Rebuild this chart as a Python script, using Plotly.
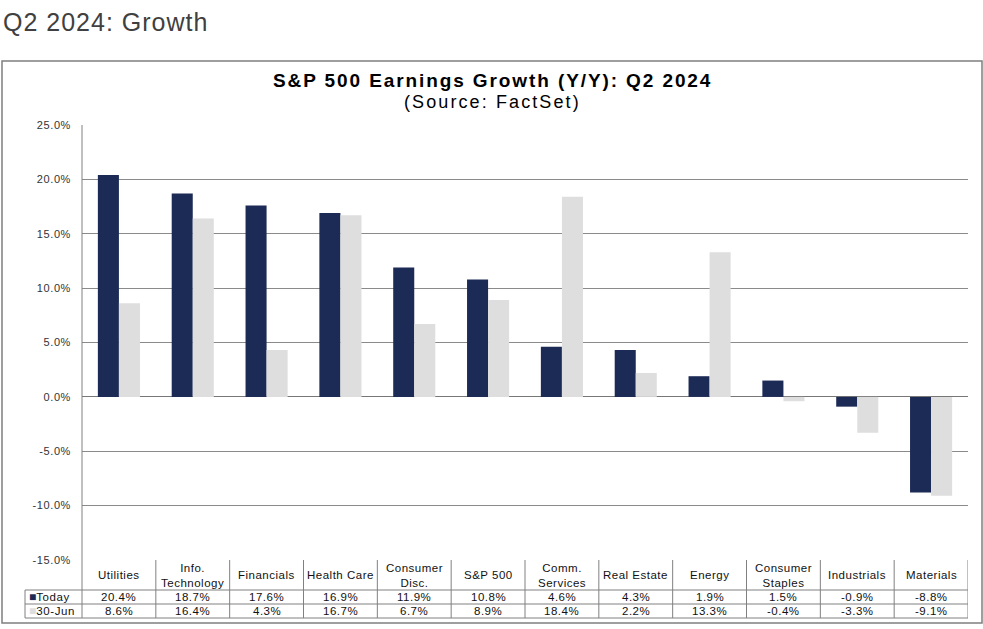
import plotly.graph_objects as go

categories = ["Utilities", "Info.<br>Technology", "Financials", "Health Care",
              "Consumer<br>Disc.", "S&P 500", "Comm.<br>Services", "Real Estate",
              "Energy", "Consumer<br>Staples", "Industrials", "Materials"]
today = [20.4, 18.7, 17.6, 16.9, 11.9, 10.8, 4.6, 4.3, 1.9, 1.5, -0.9, -8.8]
jun30 = [8.6, 16.4, 4.3, 16.7, 6.7, 8.9, 18.4, 2.2, 13.3, -0.4, -3.3, -9.1]
series_names = ["Today", "30-Jun"]
y_ticks = [25, 20, 15, 10, 5, 0, -5, -10, -15]

NAVY = "#1c2a56"
LIGHT = "#dedede"
GRID = "#8a8a8a"
FONT = "Liberation Sans, Arial, sans-serif"

W, H = 983, 629
L, R, T, B = 82, 968, 125, 560


def px_x(px):
    return (px - L) / (R - L)


def px_y(py):
    return (B - py) / (B - T)


def spaced(text, ls):
    return "<br>".join(f"<span style='letter-spacing:{ls}px'>{part}</span>"
                       for part in text.split("<br>"))


idx = list(range(len(categories)))
fig = go.Figure()
fig.add_trace(go.Bar(x=idx, y=today, name=series_names[0], marker_color=NAVY,
                     marker_line_width=0))
fig.add_trace(go.Bar(x=idx, y=jun30, name=series_names[1], marker_color=LIGHT,
                     marker_line_width=0))

shapes = []
annotations = []

# outer frame
shapes.append(dict(type="rect", xref="paper", yref="paper",
                   x0=px_x(2), x1=px_x(982), y0=px_y(623), y1=px_y(61),
                   line=dict(color="#7f7f7f", width=1.5), layer="below"))

# table lines
line_style = dict(color="#808080", width=1)
for py, x0 in [(590, 25), (604, 25), (618, 25)]:
    shapes.append(dict(type="line", xref="paper", yref="paper",
                       x0=px_x(x0), x1=1, y0=px_y(py), y1=px_y(py), line=line_style))
shapes.append(dict(type="line", xref="paper", yref="paper",
                   x0=px_x(25), x1=px_x(25), y0=px_y(590), y1=px_y(618), line=line_style))
shapes.append(dict(type="line", xref="paper", yref="paper",
                   x0=0, x1=0, y0=1, y1=px_y(618), line=line_style))
for i in range(len(categories)):
    xb = i + 0.5
    shapes.append(dict(type="line", xref="x", yref="paper",
                       x0=xb, x1=xb, y0=0, y1=px_y(618), line=line_style))

TBL = dict(size=11.5, color="#111")
# header labels and values
for i, c in enumerate(categories):
    annotations.append(dict(x=i, y=px_y(575), xref="x", yref="paper",
                            text=spaced(c, 0.5), showarrow=False, font=TBL,
                            xanchor="center", yanchor="middle"))
    annotations.append(dict(x=i, y=px_y(597), xref="x", yref="paper",
                            text=spaced(f"{today[i]:.1f}%", 0.5), showarrow=False,
                            font=TBL, xanchor="center", yanchor="middle"))
    annotations.append(dict(x=i, y=px_y(611), xref="x", yref="paper",
                            text=spaced(f"{jun30[i]:.1f}%", 0.5), showarrow=False,
                            font=TBL, xanchor="center", yanchor="middle"))

# legend key cells
for name, col, py in [(series_names[0], NAVY, 597), (series_names[1], LIGHT, 611)]:
    annotations.append(dict(x=px_x(27), y=px_y(py), xref="paper", yref="paper",
                            text=f"<span style='color:{col};font-size:12px'>■</span>"
                                 f"<span style='letter-spacing:0.6px'>{name}</span>",
                            showarrow=False, font=TBL,
                            xanchor="left", yanchor="middle"))

# page title
annotations.append(dict(x=px_x(1), y=px_y(22), xref="paper", yref="paper",
                        text=spaced("Q2 2024: Growth", 1.0), showarrow=False,
                        font=dict(size=25, color="#404040"),
                        xanchor="left", yanchor="middle"))
# chart title
annotations.append(dict(x=px_x(492), y=px_y(80), xref="paper", yref="paper",
                        text="<b>" + spaced("S&P 500 Earnings Growth (Y/Y): Q2 2024", 1.9) + "</b>",
                        showarrow=False, font=dict(size=19, color="#000"),
                        xanchor="center", yanchor="middle"))
annotations.append(dict(x=px_x(492), y=px_y(102), xref="paper", yref="paper",
                        text=spaced("(Source: FactSet)", 2.1),
                        showarrow=False, font=dict(size=18, color="#000"),
                        xanchor="center", yanchor="middle"))

fig.update_layout(
    width=W, height=H,
    margin=dict(l=L, r=W - R, t=T, b=H - B, pad=0),
    paper_bgcolor="white", plot_bgcolor="white",
    font=dict(family=FONT, color="#222"),
    barmode="group", bargap=0.43, bargroupgap=0,
    showlegend=False,
    shapes=shapes, annotations=annotations,
    xaxis=dict(range=[-0.5, len(categories) - 0.5], showticklabels=False,
               showgrid=False, zeroline=False, showline=False, ticks=""),
    yaxis=dict(range=[-15, 25], tickvals=y_ticks,
               ticktext=[spaced(f"{v:.1f}%", 0.6) for v in y_ticks],
               showgrid=True, gridcolor=GRID, gridwidth=1,
               zeroline=True, zerolinecolor="#777", zerolinewidth=1,
               showline=False, ticks="", ticklabelstandoff=10,
               tickfont=dict(size=11, color="#333")),
)

fig.write_html("out.html")
